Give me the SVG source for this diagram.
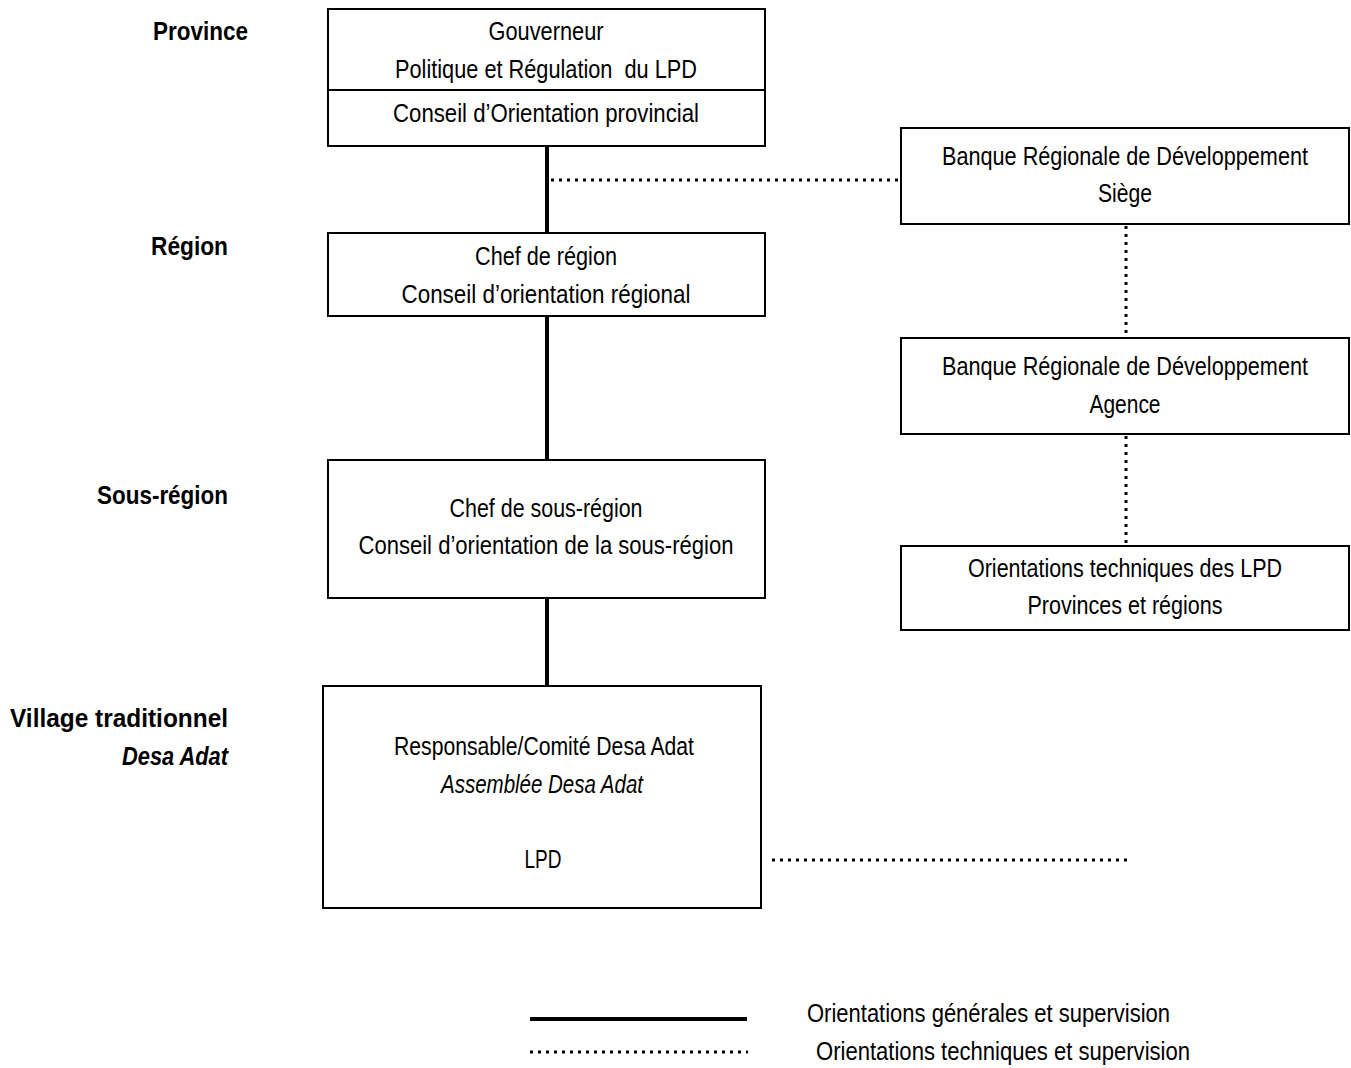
<svg xmlns="http://www.w3.org/2000/svg" width="1351" height="1068" viewBox="0 0 1351 1068">
<style>
text{font-family:"Liberation Sans","DejaVu Sans Condensed",sans-serif;font-size:25px;fill:#000;}
.c{text-anchor:middle;}
.lbl{font-weight:bold;text-anchor:end;}
.i{font-style:italic;}
.box{fill:#fff;stroke:#000;stroke-width:2;}
.solid{stroke:#000;stroke-width:4;fill:none;}
.dot{stroke:#000;stroke-width:3;stroke-dasharray:3 5;fill:none;}
</style>
<rect width="1351" height="1068" fill="#fff"/>
<g id="connectors">
<line class="solid" x1="547" y1="146" x2="547" y2="233"/>
<line class="solid" x1="547" y1="316" x2="547" y2="460"/>
<line class="solid" x1="547" y1="598" x2="547" y2="686"/>
<line class="dot" x1="551" y1="180" x2="901" y2="180"/>
<line class="dot" x1="1126" y1="226" x2="1126" y2="338"/>
<line class="dot" x1="1126" y1="436" x2="1126" y2="546"/>
<line class="dot" x1="772" y1="860" x2="1128" y2="860"/>
</g>
<g id="levels">
<text class="lbl" x="248" y="40" textLength="95" lengthAdjust="spacingAndGlyphs">Province</text>
<text class="lbl" x="228" y="255" textLength="77" lengthAdjust="spacingAndGlyphs">Région</text>
<text class="lbl" x="228" y="504" textLength="131" lengthAdjust="spacingAndGlyphs">Sous-région</text>
<text class="lbl" x="228" y="727" textLength="218" lengthAdjust="spacingAndGlyphs">Village traditionnel</text>
<text class="lbl i" x="228" y="765" textLength="106" lengthAdjust="spacingAndGlyphs">Desa Adat</text>
</g>
<g id="province">
<rect class="box" x="328" y="9" width="437" height="137"/>
<line x1="328" y1="90" x2="765" y2="90" stroke="#000" stroke-width="2"/>
<text class="c" x="546" y="40" textLength="115" lengthAdjust="spacingAndGlyphs">Gouverneur</text>
<text class="c" x="546" y="78" xml:space="preserve" textLength="302" lengthAdjust="spacingAndGlyphs">Politique et Régulation  du LPD</text>
<text class="c" x="546" y="122" textLength="306" lengthAdjust="spacingAndGlyphs">Conseil d’Orientation provincial</text>
</g>
<g id="region">
<rect class="box" x="328" y="233" width="437" height="83"/>
<text class="c" x="546" y="265" textLength="142" lengthAdjust="spacingAndGlyphs">Chef de région</text>
<text class="c" x="546" y="303" textLength="289" lengthAdjust="spacingAndGlyphs">Conseil d’orientation régional</text>
</g>
<g id="sousregion">
<rect class="box" x="328" y="460" width="437" height="138"/>
<text class="c" x="546" y="517" textLength="193" lengthAdjust="spacingAndGlyphs">Chef de sous-région</text>
<text class="c" x="546" y="554" textLength="375" lengthAdjust="spacingAndGlyphs">Conseil d’orientation de la sous-région</text>
</g>
<g id="village">
<rect class="box" x="323" y="686" width="438" height="222"/>
<text class="c" x="544" y="755" textLength="300" lengthAdjust="spacingAndGlyphs">Responsable/Comité Desa Adat</text>
<text class="c i" x="542" y="793" textLength="202" lengthAdjust="spacingAndGlyphs">Assemblée Desa Adat</text>
<text class="c" x="543" y="868" textLength="37" lengthAdjust="spacingAndGlyphs">LPD</text>
</g>
<g id="bank-siege">
<rect class="box" x="901" y="128" width="448" height="96"/>
<text class="c" x="1125" y="165" textLength="366" lengthAdjust="spacingAndGlyphs">Banque Régionale de Développement</text>
<text class="c" x="1125" y="202" textLength="54" lengthAdjust="spacingAndGlyphs">Siège</text>
</g>
<g id="bank-agence">
<rect class="box" x="901" y="338" width="448" height="96"/>
<text class="c" x="1125" y="375" textLength="366" lengthAdjust="spacingAndGlyphs">Banque Régionale de Développement</text>
<text class="c" x="1125" y="413" textLength="71" lengthAdjust="spacingAndGlyphs">Agence</text>
</g>
<g id="orientations">
<rect class="box" x="901" y="546" width="448" height="84"/>
<text class="c" x="1125" y="577" textLength="314" lengthAdjust="spacingAndGlyphs">Orientations techniques des LPD</text>
<text class="c" x="1125" y="614" textLength="195" lengthAdjust="spacingAndGlyphs">Provinces et régions</text>
</g>
<g id="legend">
<line class="solid" x1="530" y1="1019" x2="747" y2="1019"/>
<line class="dot" x1="530" y1="1052" x2="748" y2="1052"/>
<text x="807" y="1022" textLength="363" lengthAdjust="spacingAndGlyphs">Orientations générales et supervision</text>
<text x="816" y="1060" textLength="374" lengthAdjust="spacingAndGlyphs">Orientations techniques et supervision</text>
</g>
</svg>
